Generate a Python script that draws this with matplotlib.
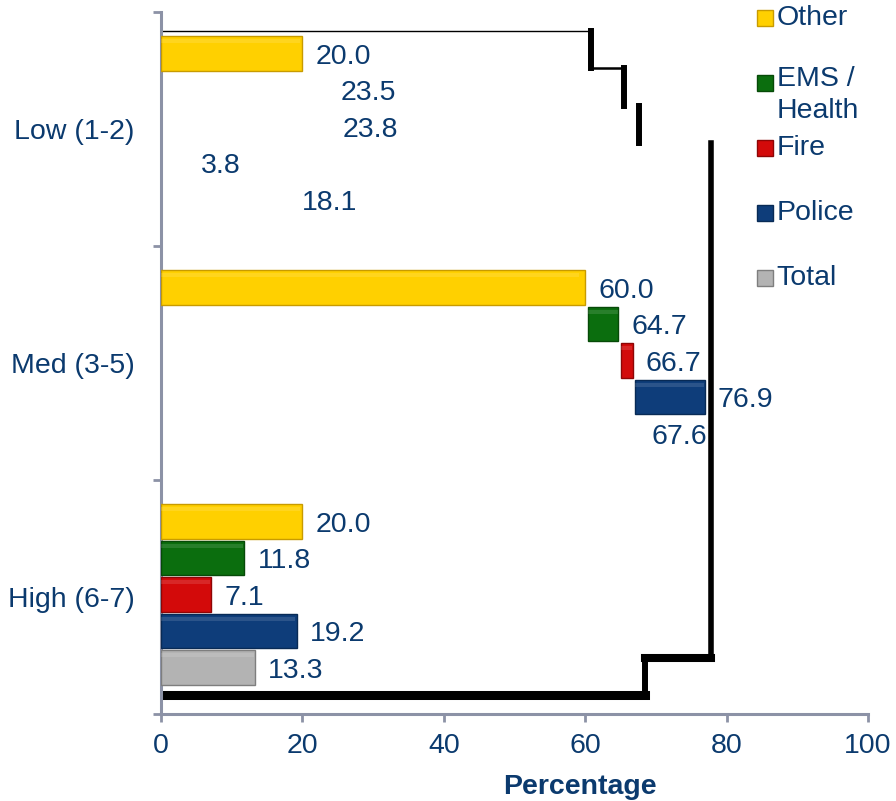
import numpy as np
import matplotlib
matplotlib.use('Agg')
import matplotlib.pyplot as plt

plt.rcParams['font.family'] = ['Liberation Sans', 'DejaVu Sans']

groups = ['Low (1-2)', 'Med (3-5)', 'High (6-7)']
series = ['Other', 'EMS /\nHealth', 'Fire', 'Police', 'Total']
low = [20.0, 23.5, 23.8, 3.8, 18.1]
med = [60.0, 64.7, 66.7, 76.9, 67.6]
high = [20.0, 11.8, 7.1, 19.2, 13.3]

colors = ['#FFD000', '#0B6E0E', '#D30A0A', '#0E3D7A', '#B3B3B3']
edges = ['#C89B00', '#064A08', '#8E0505', '#082A55', '#7E7E7E']
navy = '#0B3A6E'
axis_grey = '#8C92A6'

pitch = 0.156
bar_h = 0.148
fs = 20.5

fig = plt.figure(figsize=(8.96, 8.01), dpi=100)
ax = fig.add_axes([0.1797, 0.1086, 0.789, 0.8764])


def slot_y(group, k):
    return group + (k - 2) * pitch - 0.01


def draw_bar(y, left, width, k):
    ax.barh(y, width, left=left, height=bar_h, color=colors[k],
            edgecolor=edges[k], linewidth=1.0, zorder=3)
    # faint strip along the top edge for the bevel look
    ax.barh(y - bar_h * 0.36, width * 0.985, left=left, height=bar_h * 0.12,
            color='white', alpha=0.12, linewidth=0, zorder=4)


def label(y, v):
    ax.annotate(f'{v:.1f}', xy=(v, y), xytext=(13, -3), textcoords='offset pixels',
                va='center', ha='left', color=navy, fontsize=fs, zorder=5)


# Low group: only the first bar shows, all values are labelled
draw_bar(slot_y(0, 0), 0, low[0], 0)
for k, v in enumerate(low):
    label(slot_y(0, k), v)

# Med group: each bar starts where the previous one ended
gap = 0.4
for k, v in enumerate(med):
    left = 0 if k == 0 else med[k - 1] + gap
    if v - left > 0:
        draw_bar(slot_y(1, k), left, v - left, k)
    label(slot_y(1, k), v)

# High group: ordinary bars from zero
for k, v in enumerate(high):
    draw_bar(slot_y(2, k), 0, v, k)
    label(slot_y(2, k), v)

# black stepped outline following the Med values
shift = 0.85
stretch = 1.02


def edge_y(group, k):
    return 1 + (group + (k - 2.5) * pitch - 1) * stretch


mx = [v + shift for v in med]
e = [edge_y(0, k) for k in range(4)]
t_top, t_bot = edge_y(2, 4), edge_y(2, 5)
kw = dict(color='black', solid_capstyle='projecting', zorder=2)
ax.plot([0, mx[0]], [e[0], e[0]], lw=1.0, **kw)
ax.plot([mx[0], mx[0]], [e[0], e[1]], lw=4.3, **kw)
ax.plot([mx[0], mx[1]], [e[1], e[1]], lw=1.8, **kw)
ax.plot([mx[1], mx[1]], [e[1], e[2]], lw=4.3, **kw)
ax.plot([mx[2], mx[2]], [e[2], e[3]], lw=4.3, **kw)
ax.plot([mx[3], mx[3]], [e[3], t_top], lw=4.0, **kw)
ax.plot([mx[4], mx[3]], [t_top, t_top], lw=5.8, **kw)
ax.plot([mx[4], mx[4]], [t_top, t_bot], lw=4.3, **kw)
ax.plot([0, mx[4]], [t_bot, t_bot], lw=6.5, color='black', zorder=2)

ax.set_xlim(0, 100)
ax.set_ylim(2.5, -0.5)

ax.set_xticks(np.arange(0, 101, 20))
ax.set_yticks([-0.5, 0.5, 1.5, 2.5])
ax.set_yticklabels([])
ax.set_yticks(range(len(groups)), minor=True)
ax.set_yticklabels(groups, minor=True)

for s in ['top', 'right']:
    ax.spines[s].set_visible(False)
for s in ['left', 'bottom']:
    ax.spines[s].set_color(axis_grey)
    ax.spines[s].set_linewidth(2.2)

ax.tick_params(axis='x', which='major', length=6, width=2, color=axis_grey,
               labelsize=fs, labelcolor=navy, pad=8)
ax.tick_params(axis='y', which='major', length=6, width=2, color=axis_grey)
ax.tick_params(axis='y', which='minor', length=0, labelsize=fs,
               labelcolor=navy, pad=19)

ax.set_xlabel('Percentage', fontsize=fs, fontweight='bold', color=navy)
ax.xaxis.set_label_coords(0.593, -0.085)

# legend drawn by hand, markers beside the first line of each entry
leg_px = [18, 83, 148, 213, 278]
for k, name in enumerate(series):
    y = (714 - leg_px[k]) / 702
    ax.plot(0.855, y, marker='s', markersize=12, color=colors[k],
            markeredgecolor=edges[k], markeredgewidth=1.0,
            transform=ax.transAxes, clip_on=False, zorder=6)
    if '\n' in name:
        ax.text(0.871, y + 0.024, name, transform=ax.transAxes, va='top',
                ha='left', color=navy, fontsize=fs, linespacing=1.28)
    else:
        ax.text(0.871, y, name, transform=ax.transAxes, va='center', ha='left',
                color=navy, fontsize=fs)

fig.savefig('out.png', dpi=100)
